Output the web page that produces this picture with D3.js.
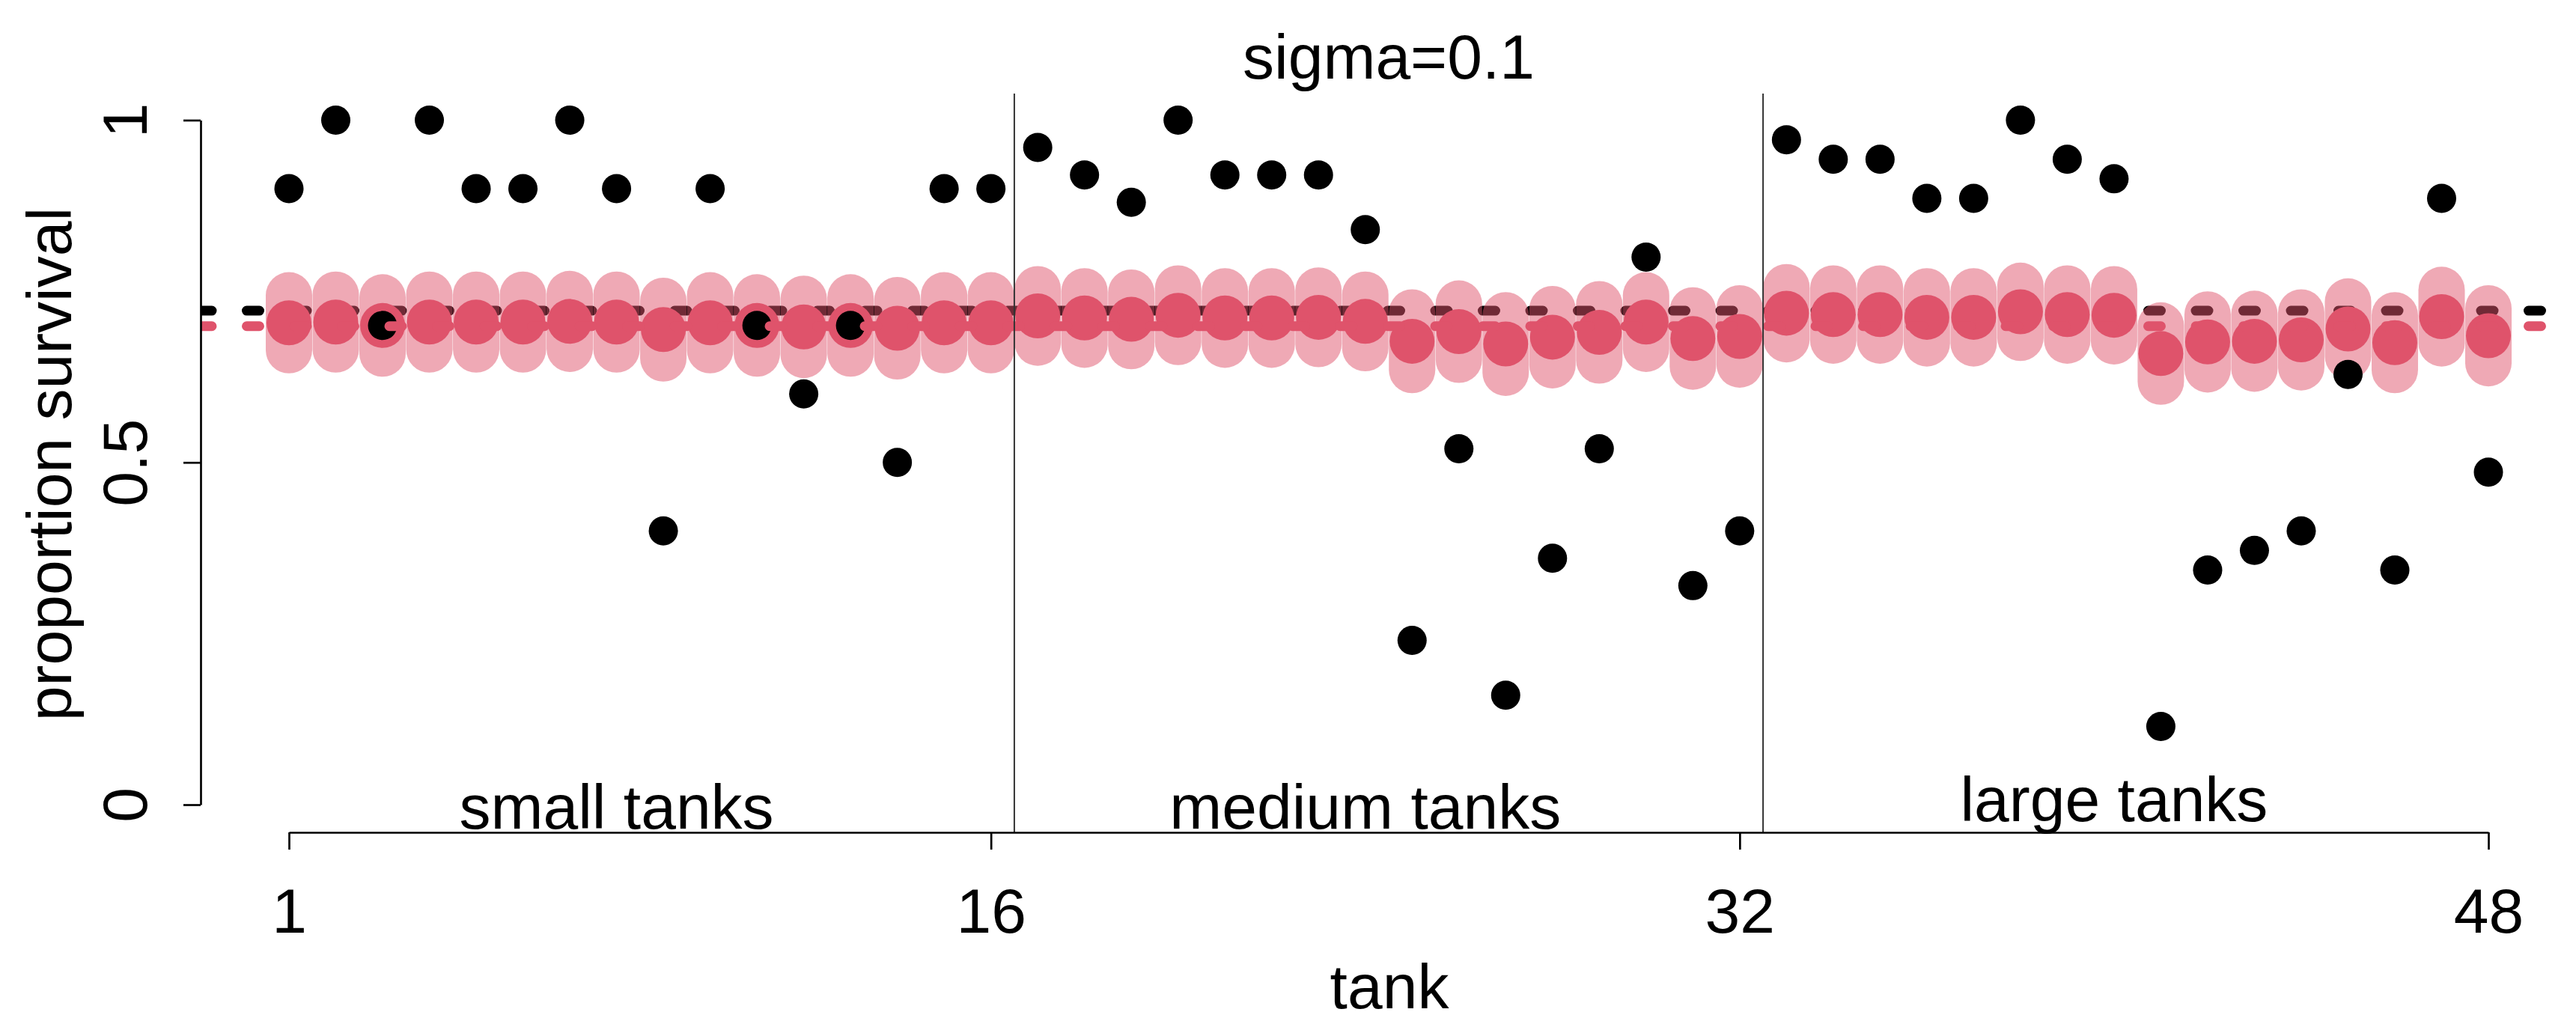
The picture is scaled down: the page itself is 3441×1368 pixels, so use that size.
<!DOCTYPE html>
<html>
<head>
<meta charset="utf-8">
<script src="https://cdn.jsdelivr.net/npm/d3@7"></script>
<style>
  body { margin: 0; background: #fff; }
  text { font-family: "Liberation Sans", Arial, Helvetica, sans-serif; fill: #000; }
</style>
</head>
<body>
<div id="chart"></div>
<script>
// observed proportion surviving in each tank (reedfrogs)
var propsurv = [0.9, 1, 0.7, 1, 0.9, 0.9, 1, 0.9, 0.4, 0.9, 0.7, 0.6, 0.7, 0.5, 0.9, 0.9,
                0.96, 0.92, 0.88, 1, 0.92, 0.92, 0.92, 0.84, 0.24, 0.52, 0.16, 0.36, 0.52, 0.8, 0.32, 0.4,
                0.9714, 0.9429, 0.9429, 0.8857, 0.8857, 1, 0.9429, 0.9143, 0.1143, 0.3429, 0.3714, 0.4,
                0.6286, 0.3429, 0.8857, 0.4857];

// posterior mean per tank (sigma = 0.1)
var postMean = [0.704, 0.705, 0.700, 0.705, 0.705, 0.705, 0.706, 0.705, 0.694, 0.704, 0.700, 0.698,
                0.700, 0.696, 0.704, 0.704, 0.714, 0.711, 0.709, 0.715, 0.711, 0.711, 0.712, 0.706,
                0.677, 0.691, 0.673, 0.683, 0.690, 0.705, 0.681, 0.684, 0.718, 0.716, 0.716, 0.712,
                0.712, 0.720, 0.716, 0.715, 0.659, 0.676, 0.677, 0.679, 0.695, 0.675, 0.713, 0.685];

// interval ends per tank
var postLo = [0.664, 0.665, 0.659, 0.665, 0.665, 0.665, 0.666, 0.665, 0.652, 0.664, 0.659, 0.657,
              0.659, 0.655, 0.664, 0.664, 0.675, 0.672, 0.670, 0.676, 0.672, 0.672, 0.673, 0.667,
              0.635, 0.650, 0.631, 0.642, 0.649, 0.666, 0.640, 0.643, 0.680, 0.678, 0.678, 0.674,
              0.674, 0.682, 0.678, 0.677, 0.618, 0.636, 0.637, 0.639, 0.655, 0.635, 0.674, 0.645];
var postHi = [0.744, 0.745, 0.741, 0.745, 0.745, 0.745, 0.746, 0.745, 0.736, 0.744, 0.741, 0.739,
              0.741, 0.737, 0.744, 0.744, 0.753, 0.750, 0.748, 0.754, 0.750, 0.750, 0.751, 0.745,
              0.719, 0.732, 0.715, 0.724, 0.731, 0.744, 0.722, 0.725, 0.756, 0.754, 0.754, 0.750,
              0.750, 0.758, 0.754, 0.753, 0.700, 0.716, 0.717, 0.719, 0.735, 0.715, 0.752, 0.725];

var abar = 0.699;               // population mean (red dashed line)
var xTicks = [1, 16, 32, 48];
var yTicks = [0, 0.5, 1];
var yTickLabels = ["0", "0.5", "1"];
var groupNames = ["small tanks", "medium tanks", "large tanks"];
var groupCenters = [8, 24, 40];
var dividers = [16.5, 32.5];

function init() {

    var w = 3441;
    var h = 1368;
    var red = "#DF536B";
    var fs = 84;

    var tanks = d3.range(1, propsurv.length + 1);

    var x = d3.scaleLinear().domain([1, 48]).range([386, 3324]);
    var y = d3.scaleLinear().domain([0, 1]).range([1075, 160.5]);

    var svg = d3.select("#chart")
                .append("svg")
                .attr("width", w)
                .attr("height", h);

    svg.append("rect").attr("width", w).attr("height", h).attr("fill", "#fff");

    svg.append("clipPath")
       .attr("id", "plotclip")
       .append("rect")
       .attr("x", 269).attr("y", 125)
       .attr("width", w - 269).attr("height", 1112 - 125);

    var plot = svg.append("g").attr("clip-path", "url(#plotclip)");

    // observed mean
    plot.append("line")
        .attr("x1", 266).attr("x2", w)
        .attr("y1", y(d3.mean(propsurv))).attr("y2", y(d3.mean(propsurv)))
        .attr("stroke", "#000")
        .attr("stroke-width", 13)
        .attr("stroke-linecap", "round")
        .attr("stroke-dasharray", "17 46.5");

    // intervals
    plot.selectAll(".ci")
        .data(tanks)
        .enter()
        .append("line")
        .attr("class", "ci")
        .attr("x1", function(d) { return x(d); })
        .attr("x2", function(d) { return x(d); })
        .attr("y1", function(d) { return y(postLo[d - 1]); })
        .attr("y2", function(d) { return y(postHi[d - 1]); })
        .attr("stroke", red)
        .attr("stroke-opacity", 0.5)
        .attr("stroke-width", 62)
        .attr("stroke-linecap", "round");

    // posterior means
    plot.selectAll(".mu")
        .data(tanks)
        .enter()
        .append("circle")
        .attr("class", "mu")
        .attr("cx", function(d) { return x(d); })
        .attr("cy", function(d) { return y(postMean[d - 1]); })
        .attr("r", 30)
        .attr("fill", red);

    // raw proportions
    plot.selectAll(".obs")
        .data(tanks)
        .enter()
        .append("circle")
        .attr("class", "obs")
        .attr("cx", function(d) { return x(d); })
        .attr("cy", function(d) { return y(propsurv[d - 1]); })
        .attr("r", 19.5)
        .attr("fill", "#000");

    // abar line
    plot.append("line")
        .attr("x1", 266).attr("x2", w)
        .attr("y1", y(abar)).attr("y2", y(abar))
        .attr("stroke", red)
        .attr("stroke-width", 13)
        .attr("stroke-linecap", "round")
        .attr("stroke-dasharray", "17 46.5");

    // tank size dividers
    svg.selectAll(".div")
       .data(dividers)
       .enter()
       .append("line")
       .attr("x1", function(d) { return x(d); })
       .attr("x2", function(d) { return x(d); })
       .attr("y1", 125).attr("y2", 1112)
       .attr("stroke", "#333")
       .attr("stroke-width", 2);

    // axes
    var yAxis = svg.append("g")
                   .attr("transform", "translate(268,0)")
                   .call(d3.axisLeft(y)
                           .tickValues(yTicks)
                           .tickSize(23)
                           .tickSizeOuter(0)
                           .tickFormat(function(d, i) { return yTickLabels[i]; }));

    var xAxis = svg.append("g")
                   .attr("transform", "translate(0,1112)")
                   .call(d3.axisBottom(x)
                           .tickValues(xTicks)
                           .tickSize(23)
                           .tickSizeOuter(0)
                           .tickFormat(d3.format("d")));

    svg.selectAll(".domain, .tick line")
       .attr("stroke", "#000")
       .attr("stroke-width", 2.7);

    yAxis.selectAll(".tick text")
         .attr("x", 0)
         .attr("y", -72)
         .attr("dy", null)
         .attr("transform", "rotate(-90)")
         .attr("text-anchor", "middle")
         .style("font-size", fs + "px");

    xAxis.selectAll(".tick text")
         .attr("y", 134)
         .attr("dy", null)
         .style("font-size", fs + "px");

    svg.selectAll(".tick text").attr("fill", "#000")
       .style("font-family", "'Liberation Sans', Arial, Helvetica, sans-serif");

    // group labels
    svg.selectAll(".grp")
       .data(groupNames)
       .enter()
       .append("text")
       .attr("x", function(d, i) { return x(groupCenters[i]); })
       .attr("y", function(d, i) { return i == 2 ? 1097 : 1107; })
       .attr("text-anchor", "middle")
       .style("font-size", fs + "px")
       .text(function(d) { return d; });

    // titles
    svg.append("text")
       .attr("x", 1855).attr("y", 105)
       .attr("text-anchor", "middle")
       .style("font-size", fs + "px")
       .text("sigma=0.1");

    svg.append("text")
       .attr("x", 1856).attr("y", 1347)
       .attr("text-anchor", "middle")
       .style("font-size", fs + "px")
       .text("tank");

    svg.append("text")
       .attr("transform", "translate(95,620) rotate(-90)")
       .attr("text-anchor", "middle")
       .style("font-size", fs + "px")
       .text("proportion survival");
}

window.onload = init;
</script>
</body>
</html>
